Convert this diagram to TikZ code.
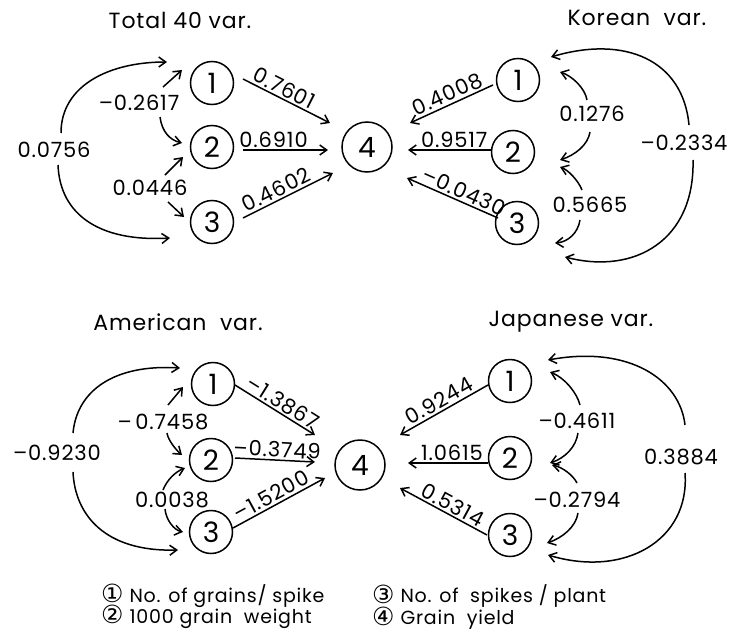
\documentclass[tikz,border=0pt]{standalone}
\usepackage{fontspec}
\setmainfont{Poppins}[LetterSpace=4]
\newfontfamily\circfont{DejaVu Sans}
\usetikzlibrary{arrows.meta,calc}
\newcommand{\keymark}[1]{\raisebox{-0.5pt}{\circfont\fontsize{25}{25}\selectfont #1}\hspace{6pt}}

\begin{document}
\begin{tikzpicture}[x=1pt,y=-1pt,
  every node/.style={inner sep=1pt},
  var/.style={circle,draw,line width=1.5pt,minimum size=43pt,inner sep=0pt,
    font=\fontsize{28}{28}\selectfont},
  yield/.style={var,minimum size=50pt},
  ttl/.style={font=\fontsize{22}{22}\selectfont},
  coef/.style={font=\fontsize{21}{21}\selectfont},
  pcoef/.style={coef,sloped,above,inner sep=2pt},
  link/.style={line width=1.5pt,-{Straight Barb[length=7pt,width=10pt]}},
  legend/.style={font=\fontsize{19}{19}\selectfont,anchor=west,inner sep=0pt}
]
\useasboundingbox (0,0) rectangle (729,640);

% ---------- variables ----------
\node[yield] (T4) at (367,147) {4};
\node[var] (T1) at (212,83)  {1};
\node[var] (T2) at (212,147) {2};
\node[var] (T3) at (212,222) {3};
\node[var] (K1) at (518,80)  {1};
\node[var] (K2) at (513,152) {2};
\node[var] (K3) at (517,223) {3};
\node[yield] (B4) at (360,465) {4};
\node[var] (A1) at (213,384) {1};
\node[var] (A2) at (211,460) {2};
\node[var] (A3) at (211,532) {3};
\node[var] (J1) at (510,381) {1};
\node[var] (J2) at (510,458) {2};
\node[var] (J3) at (510,535) {3};

% ---------- titles ----------
\node[ttl] (tT) at (180,20)  {Total 40 var.};
\node[ttl] (tK) at (637,18)  {Korean\ \ var.};
\node[ttl] (tA) at (178,322) {American\ \ var.};
\node[ttl] (tJ) at (571,322) {Japanese var.};

% ---------- Total 40 var. ----------
\draw[link] ($(T1)+(31,-4)$) -- node[pcoef,pos=0.42]{0.7601} ($(T4)+(-37,-24)$);
\draw[link] ($(T2)+(31,3)$)  -- node[pcoef,pos=0.36]{0.6910} ($(T4)+(-39,3)$);
\draw[link] ($(T3)+(31,-4)$) -- node[pcoef,pos=0.42]{0.4602} ($(T4)+(-34,26)$);

\node[coef] (a0756) at (54,150) {0.0756};
\draw[link] ($(a0756)+(7,-17)$) .. controls (61,85) and (110,62) .. ($(T1)+(-45,-21)$);
\draw[link] ($(a0756)+(4,15)$) .. controls (60,215) and (100,242) .. ($(T3)+(-42,16)$);
\node[coef] (a2617) at (139,103) {–0.2617};
\draw[link] ($(a2617)+(24,-16)$) -- ($(T1)+(-30,-13)$);
\draw[link] ($(a2617)+(21,14)$) .. controls (162,132) and (170,140) .. ($(T2)+(-30,-4)$);
\node[coef] (a0446) at (150,188) {0.0446};
\draw[link] ($(a0446)+(15,-13)$) -- ($(T2)+(-29,10)$);
\draw[link] ($(a0446)+(18,14)$) -- ($(T3)+(-28,-5)$);

% ---------- Korean var. ----------
\draw[link] ($(K1)+(-25,5)$)  -- node[pcoef,pos=0.5]{0.4008} ($(T4)+(43,-24)$);
\draw[link] ($(K2)+(-21,-2)$) -- node[pcoef,pos=0.45]{0.9517} ($(T4)+(41,3)$);
\draw[link] ($(K3)+(-19,-5)$) -- node[pcoef,pos=0.42]{–0.0430} ($(T4)+(40,31)$);

\node[coef] (b2334) at (684,143) {–0.2334};
\draw[link] ($(b2334)+(5,-18)$) .. controls (683,60) and (625,35) .. ($(K1)+(33,-23)$);
\draw[link] ($(b2334)+(9,17)$) .. controls (695,240) and (635,275) .. ($(K3)+(48,34)$);
\node[coef] (b1276) at (592,114) {0.1276};
\draw[link] ($(b1276)+(-5,-14)$) .. controls (585,88) and (572,76) .. ($(K1)+(42,-8)$);
\draw[link] ($(b1276)+(-2,18)$) .. controls (588,145) and (575,155) .. ($(K2)+(47,8)$);
\node[coef] (b5665) at (590,205) {0.5665};
\draw[link] ($(b5665)+(-8,-15)$) .. controls (578,180) and (568,170) .. ($(K2)+(47,15)$);
\draw[link] ($(b5665)+(-10,15)$) .. controls (578,233) and (568,242) .. ($(K3)+(38,20)$);

% ---------- American var. ----------
\draw[link] ($(A1)+(22,1)$)  -- node[pcoef,pos=0.53]{–1.3867} ($(B4)+(-45,-30)$);
\draw[link] ($(A2)+(24,-2)$) -- node[pcoef,pos=0.52]{–0.3749} ($(B4)+(-45,-3)$);
\draw[link] ($(A3)+(22,-4)$) -- node[pcoef,pos=0.47]{–1.5200} ($(B4)+(-35,13)$);

\node[coef] (c9230) at (57,453) {–0.9230};
\draw[link] ($(c9230)+(16,-20)$) .. controls (77,390) and (115,364) .. ($(A1)+(-33,-16)$);
\draw[link] ($(c9230)+(16,19)$) .. controls (75,515) and (105,552) .. ($(A3)+(-33,18)$);
\node[coef] (c7458) at (163,422) {–\,0.7458};
\draw[link] ($(c7458)+(5,-17)$) -- ($(A1)+(-30,3)$);
\draw[link] ($(c7458)+(4,11)$) .. controls (168,440) and (176,450) .. ($(A2)+(-29,-5)$);
\node[coef] (c0038) at (172,500) {0.0038};
\draw[link] ($(c0038)+(-9,-10)$) .. controls (167,480) and (175,472) .. ($(A2)+(-26,8)$);
\draw[link] ($(c0038)+(-7,9)$) .. controls (166,520) and (174,530) .. ($(A3)+(-28,0)$);

% ---------- Japanese var. ----------
\draw[link] ($(J1)+(-22,4)$) -- node[pcoef,pos=0.5]{0.9244} ($(B4)+(40,-30)$);
\draw[link] ($(J2)+(-22,5)$) -- node[pcoef,pos=0.45]{1.0615} ($(B4)+(48,-2)$);
\draw[link] ($(J3)+(-23,0)$) -- node[pcoef,pos=0.45]{0.5314} ($(B4)+(40,23)$);

\node[coef] (d3884) at (681,457) {0.3884};
\draw[link] ($(d3884)+(4,-32)$) .. controls (680,380) and (630,345) .. ($(J1)+(38,-21)$);
\draw[link] ($(d3884)+(4,16)$) .. controls (690,540) and (625,578) .. ($(J3)+(38,20)$);
\node[coef] (d4611) at (577,421) {–0.4611};
\draw[link] ($(d4611)+(3,-16)$) .. controls (577,393) and (565,378) .. ($(J1)+(40,-9)$);
\draw[link] ($(d4611)+(1,12)$) .. controls (576,447) and (565,458) .. ($(J2)+(40,5)$);
\node[coef] (d2794) at (577,500) {–0.2794};
\draw[link] ($(d2794)+(0,-17)$) .. controls (573,475) and (562,467) .. ($(J2)+(42,7)$);
\draw[link] ($(d2794)+(1,13)$) .. controls (576,527) and (562,538) .. ($(J3)+(37,8)$);

% ---------- key ----------
\node[legend] (k1) at (101,596) {\keymark{①}No. of grains/ spike};
\node[legend] (k2) at (101,617) {\keymark{②}1000 grain\ \ weight};
\node[legend] (k3) at (372,596) {\keymark{③}No. of\ \ spikes / plant};
\node[legend] (k4) at (372,618) {\keymark{④}Grain\ \ yield};
\end{tikzpicture}
\end{document}
